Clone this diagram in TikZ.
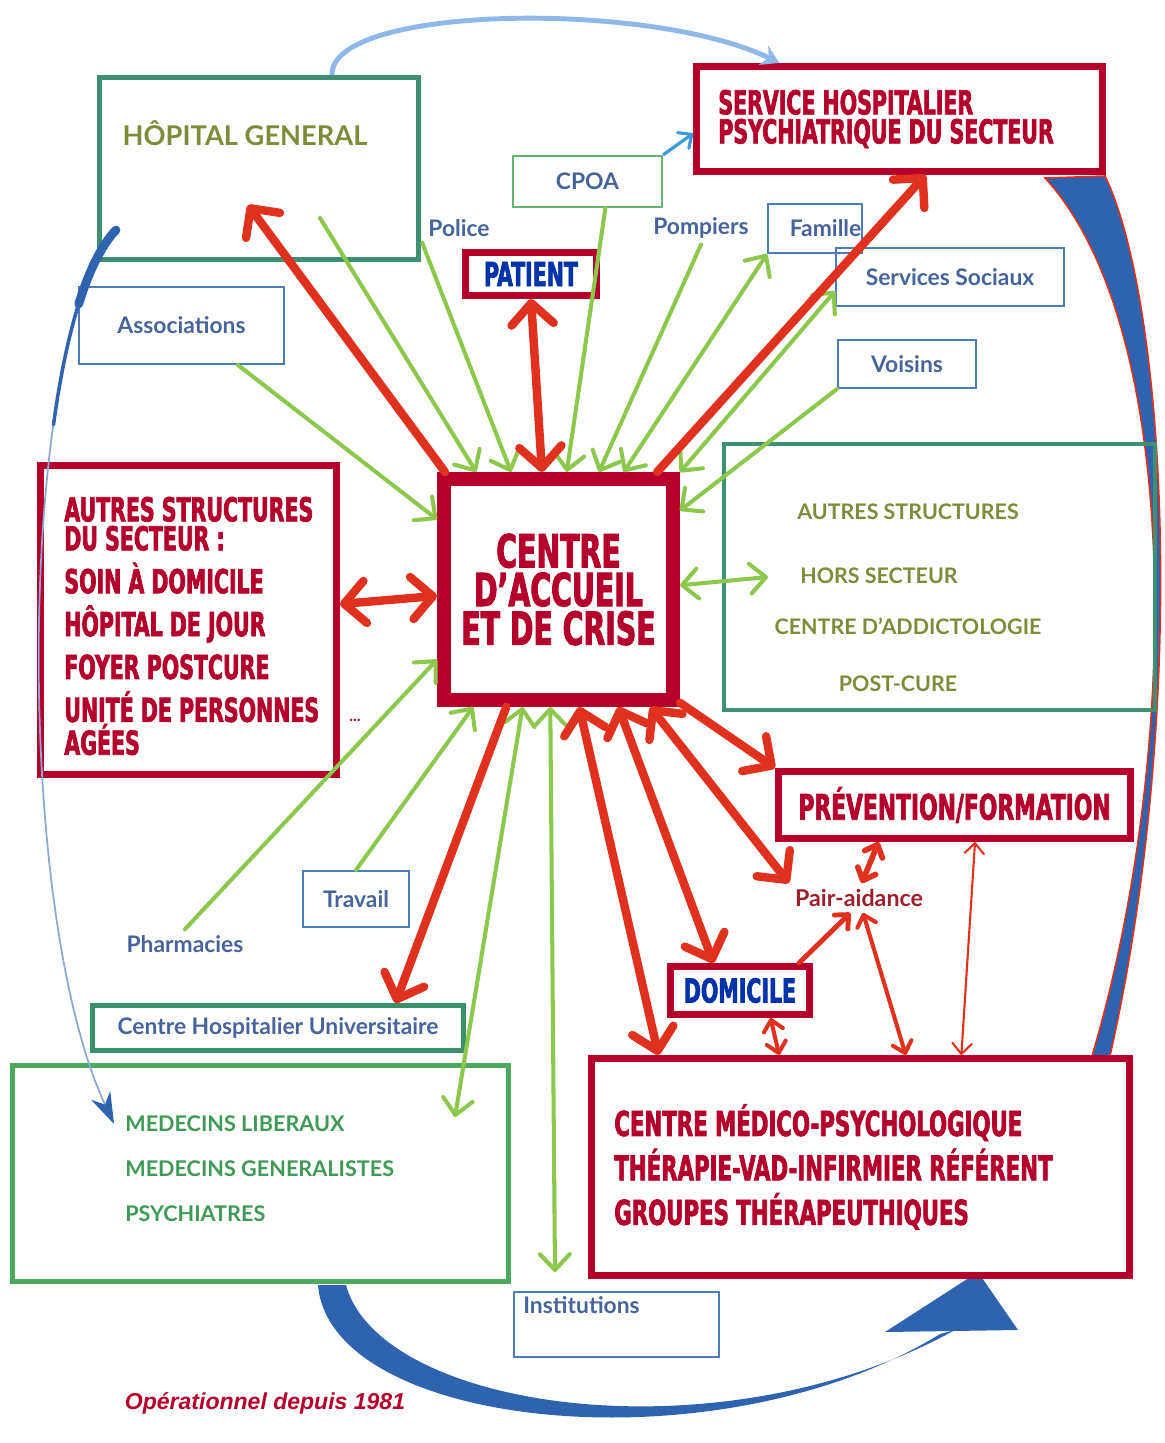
\documentclass[tikz,border=0pt]{standalone}
\usepackage{fontspec}
\setmainfont{Lato}
\newfontfamily\heavyfont{DejaVu Sans Condensed}[FakeStretch=0.69,FakeBold=2]
\newfontfamily\notefont{Liberation Sans}
\usetikzlibrary{arrows.meta}

\definecolor{crimson}{HTML}{B5002B}
\definecolor{arrowred}{HTML}{E0301E}
\definecolor{leaf}{HTML}{8CC84B}
\definecolor{boxteal}{HTML}{3F8F72}
\definecolor{chuteal}{HTML}{3A9068}
\definecolor{medgreen}{HTML}{4BAA5E}
\definecolor{cpoagreen}{HTML}{62B46E}
\definecolor{slate}{HTML}{46649A}
\definecolor{edgeblue}{HTML}{4C7DBA}
\definecolor{olivetext}{HTML}{7E8C3A}
\definecolor{medtext}{HTML}{3E9A55}
\definecolor{royal}{HTML}{0033AA}
\definecolor{swoosh}{HTML}{2E63B0}
\definecolor{skyline}{HTML}{8DB8E8}
\definecolor{cpoablue}{HTML}{3A9BDC}
\definecolor{pairred}{HTML}{9C1F2A}

\tikzset{
  redtip/.tip={Straight Barb[length=12pt,width=24pt,round]},
  greentip/.tip={Straight Barb[length=9pt,width=17pt,round]},
  smalltip/.tip={Straight Barb[length=6pt,width=11pt,round]}
}

\begin{document}
\begin{tikzpicture}[x=0.02cm,y=-0.02cm,
    redbox/.style={draw=crimson,line width=4pt,fill=white,inner sep=0pt},
    tealbox/.style={draw=boxteal,line width=2.8pt,inner sep=0pt},
    thinbox/.style={draw=edgeblue,line width=1.1pt,inner sep=0pt},
    heavy/.style={font=\heavyfont\bfseries\fontsize{18.8}{16.5}\selectfont,text=crimson},
    bluelabel/.style={font=\bfseries\fontsize{13}{15}\selectfont,text=slate},
    olivelabel/.style={font=\bfseries\fontsize{12.2}{14}\selectfont,text=olivetext},
    redline/.style={draw=arrowred,line width=4.8pt,line cap=round},
    greenline/.style={draw=leaf,line width=2.3pt,line cap=round}]
    \useasboundingbox (0,0) rectangle (1165,1443);

    % Big swooshes behind everything
    \filldraw[fill=swoosh,draw=arrowred,line width=0.9pt] (1105,176) .. controls (1165,300) and (1190,700) .. (1110,1056)
        -- (1092,1056) .. controls (1180,760) and (1185,330) .. (1045,178) -- cycle;
    \fill[swoosh] (318,1285) .. controls (330,1430) and (720,1470) .. (940,1334) -- (955,1330)
        .. controls (720,1460) and (380,1410) .. (346,1285) -- cycle;
    \fill[swoosh] (885,1332) -- (978,1272) -- (1018,1330) -- cycle;

    % Boxes
    \node[tealbox,minimum width=6.38cm,minimum height=3.64cm] (hopital) at (259,168.5) {};
    \node[font=\bfseries\fontsize{15.5}{18}\selectfont,text=olivetext] (hoplabel) at (245,133) {HÔPITAL GENERAL};
    \node[redbox,minimum width=8.12cm,minimum height=2.1cm] (service) at (899.5,119) {};
    \node[heavy,align=left,anchor=west,inner sep=0pt] (servicetext) at (718,119) {SERVICE HOSPITALIER\\PSYCHIATRIQUE DU SECTEUR};
    \node[draw=cpoagreen,line width=1.2pt,minimum width=2.98cm,minimum height=1.02cm,bluelabel] (cpoa) at (587.5,181.5) {CPOA};
    \node[bluelabel] (police) at (459,228) {Police};
    \node[bluelabel] (pompiers) at (701,228) {Pompiers};
    \node[thinbox,minimum width=1.88cm,minimum height=0.98cm,bluelabel] (famille) at (815,228.5) {\hspace*{12pt}Famille};
    \node[thinbox,minimum width=4.56cm,minimum height=1.16cm,bluelabel] (sociaux) at (950,277) {Services Sociaux};
    \node[thinbox,minimum width=2.76cm,minimum height=0.96cm,bluelabel] (voisins) at (907,364) {Voisins};
    \node[thinbox,minimum width=4.1cm,minimum height=1.54cm,bluelabel] (assoc) at (181.5,325.5) {Associations};
    \node[redbox,minimum width=2.62cm,minimum height=0.86cm,heavy,text=royal] (patient) at (531,274) {PATIENT};

    \node[redbox,line width=8pt,minimum width=4.58cm,minimum height=4.42cm,align=center,
        font=\heavyfont\bfseries\fontsize{26}{22}\selectfont,text=crimson] (crise) at (558.5,589.5) {CENTRE\\D’ACCUEIL\\ET DE CRISE};

    \node[redbox,minimum width=5.92cm,minimum height=6.18cm] (secteur) at (188.5,620) {};
    \node[heavy,align=left,anchor=west,inner sep=0pt] (secteurtext) at (64,626)
        {AUTRES STRUCTURES\\DU SECTEUR :\\[5.7pt]SOIN À DOMICILE\\[5.7pt]HÔPITAL DE JOUR\\[5.7pt]FOYER POSTCURE\\[5.7pt]UNITÉ DE PERSONNES\\AGÉES};
    \node[font=\bfseries\fontsize{9}{10}\selectfont,text=crimson] (dots) at (355,720) {...};

    \node[draw=boxteal,line width=2.3pt,minimum width=8.62cm,minimum height=5.32cm] (horsect) at (939.5,577) {};
    \node[olivelabel] (hs1) at (908,512) {AUTRES STRUCTURES};
    \node[olivelabel] (hs2) at (879,576) {HORS SECTEUR};
    \node[olivelabel] (hs3) at (908,626) {CENTRE D’ADDICTOLOGIE};
    \node[olivelabel] (hs4) at (898,684) {POST-CURE};

    \node[redbox,minimum width=7.04cm,minimum height=1.34cm,heavy,font=\heavyfont\bfseries\fontsize{20}{22}\selectfont] (prevention) at (954.5,805) {PRÉVENTION/FORMATION};
    \node[font=\bfseries\fontsize{13.2}{15}\selectfont,text=pairred] (pair) at (859,898) {Pair-aidance};
    \node[redbox,minimum width=2.78cm,minimum height=0.96cm,heavy,text=royal] (domicile) at (740,990.5) {DOMICILE};
    \node[thinbox,minimum width=2.12cm,minimum height=1.12cm,bluelabel] (travail) at (356,899) {Travail};
    \node[bluelabel] (pharma) at (185,944) {Pharmacies};

    \node[draw=chuteal,line width=2.8pt,minimum width=7.42cm,minimum height=0.9cm,bluelabel] (chu) at (278,1028) {Centre Hospitalier Universitaire};
    \node[draw=medgreen,line width=2.8pt,minimum width=9.92cm,minimum height=4.32cm] (medecins) at (260.5,1173.5) {};
    \node[font=\bfseries\fontsize{12.3}{25.6}\selectfont,text=medtext,align=left,anchor=west,inner sep=0pt] (medlist) at (125,1169)
        {MEDECINS LIBERAUX\\MEDECINS GENERALISTES\\PSYCHIATRES};

    \node[redbox,minimum width=10.76cm,minimum height=4.34cm] (cmp) at (860.5,1167) {};
    \node[heavy,font=\heavyfont\bfseries\fontsize{19.5}{25.3}\selectfont,align=left,anchor=west,inner sep=0pt] (cmptext) at (614,1167)
        {CENTRE MÉDICO-PSYCHOLOGIQUE\\THÉRAPIE-VAD-INFIRMIER RÉFÉRENT\\GROUPES THÉRAPEUTHIQUES};

    \node[thinbox,minimum width=4.1cm,minimum height=1.3cm] (instit) at (616.5,1324.5) {};
    \node[bluelabel,anchor=west,inner sep=0pt] (institext) at (523,1305) {Institutions};
    \node[font=\notefont\bfseries\itshape\fontsize{13.1}{15}\selectfont,text=crimson] (since) at (265,1403) {Opérationnel depuis 1981};

    % Free ends inside boxes
    \coordinate (hg-tip) at (248,205);
    \coordinate (hg-from) at (320,218);
    \coordinate (hg-out) at (116,230);
    \coordinate (hs-tip) at (768,577);
    \coordinate (md-tip) at (455,1117);
    \coordinate (md-left) at (114,1124);
    \coordinate (inst-tip) at (555,1272);

    % Blue links
    \draw[skyline,line width=2.8pt,-{Stealth[length=10pt,width=12pt]}] (hopital.52) .. controls (330,5) and (650,0) .. (service.155);
    \draw[cpoablue,line width=1.8pt,-smalltip] (cpoa.north east) -- (service.-176);
    \draw[swoosh!55,line width=1pt,-{Stealth[length=18pt,width=12pt,swoosh]}] (hg-out) .. controls (20,330) and (10,900) .. (md-left);
    \draw[swoosh,line width=2pt,line cap=round] (hg-out) .. controls (87.2,260) and (66.1,332.3) .. (53.5,424.7);
    \draw[swoosh,line width=5pt,line cap=round] (hg-out) .. controls (101.6,245) and (89.1,270.6) .. (78.7,304);

    % Green arrows
    \draw[greenline,-greentip] (hg-from) -- (crise.125);
    \draw[greenline,-greentip] (police.south west) -- (crise.112);
    \draw[greenline,-greentip] (cpoa.-56) -- (crise.86);
    \draw[greenline,-greentip] (pompiers.south) -- (crise.71);
    \draw[greenline,greentip-greentip] (crise.61) -- (famille.south west);
    \draw[greenline,greentip-greentip] (crise.44) -- (sociaux.-173);
    \draw[greenline,-greentip] (voisins.south west) -- (crise.33);
    \draw[greenline,-greentip] (assoc.-35) -- (crise.150);
    \draw[greenline,-greentip] (pharma.north) -- (crise.210);
    \draw[greenline,-greentip] (travail.north) -- (crise.234);
    \draw[greenline,greentip-greentip] (crise.253) -- (md-tip);
    \draw[greenline,greentip-greentip] (crise.266) -- (inst-tip);
    \draw[greenline,greentip-greentip] (crise.2) -- (hs-tip);

    % Red arrows
    \draw[redline,-redtip] (crise.134) -- (hg-tip);
    \draw[redline,redtip-redtip] (crise.98) -- (patient.south);
    \draw[redline,-redtip] (crise.50) -- (service.-65);
    \draw[redline,redtip-redtip] (crise.183) -- (secteur.6);
    \draw[redline,-redtip] (crise.246) -- (chu.12);
    \draw[redline,redtip-redtip] (crise.280) -- (cmp.151);
    \draw[redline,redtip-redtip] (crise.297) -- (domicile.134);
    \draw[redline,redtip-redtip] (crise.308) -- (pair.north west);
    \draw[redline,-redtip] (crise.-43) -- (prevention.north west);

    % Small links round Pair-aidance
    \draw[arrowred,line width=3.2pt,line cap=round,smalltip-smalltip] (prevention.-154) -- (pair.80);
    \draw[arrowred,line width=2.8pt,line cap=round,-smalltip] (domicile.25) -- (pair.-120);
    \draw[arrowred,line width=2.3pt,line cap=round,smalltip-smalltip] (pair.-75) -- (cmp.68);
    \draw[arrowred,line width=1.2pt,line cap=round,smalltip-smalltip] (prevention.-61) -- (cmp.48);
    \draw[arrowred,line width=2.3pt,line cap=round,smalltip-smalltip] (domicile.-42) -- (cmp.126);
\end{tikzpicture}
\end{document}
